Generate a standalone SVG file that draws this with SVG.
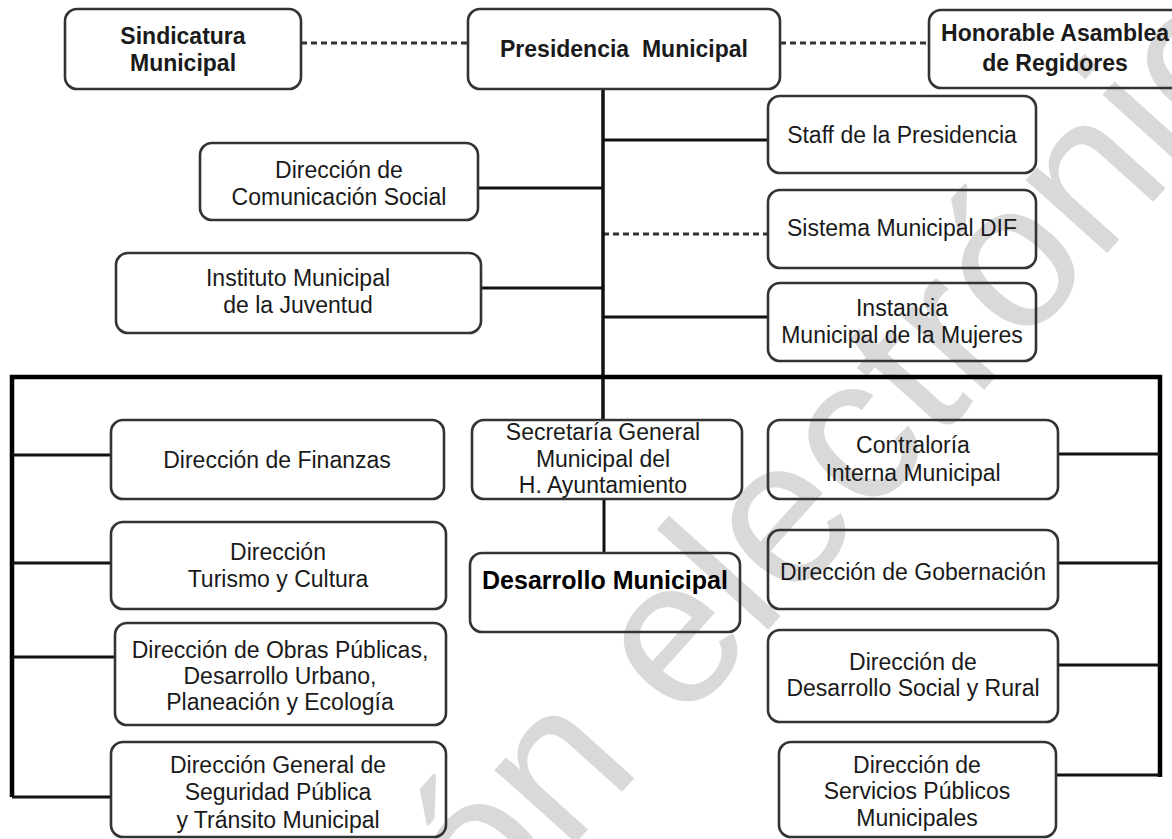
<svg xmlns="http://www.w3.org/2000/svg" width="1172" height="839" viewBox="0 0 1172 839">
<style>
.bg{fill:#ffffff}
.wm{font-family:"Liberation Sans",Arial,sans-serif;font-size:207px;fill:#d9d9d9}
.box{fill:none;stroke:#333333;stroke-width:2.6}
.t{font-family:"Liberation Sans",Arial,sans-serif;font-size:23px;fill:#1a1a1a;text-anchor:middle}
.b{font-weight:bold}
.big{font-size:25px;font-weight:bold;fill:#000}
.ln{stroke:#111111;stroke-width:3;fill:none}
.bus{stroke:#000000;stroke-width:4.5;fill:none}
.dot{stroke:#333333;stroke-width:3;stroke-dasharray:6 4;fill:none}
</style>
<rect class="bg" x="0" y="0" width="1172" height="839"/>
<g id="watermark">
<text class="wm" transform="translate(-65,1555) rotate(-48)" x="0" y="0">Publicación electrónica</text>
</g>
<g id="connectors">
<line class="dot" x1="301" y1="43" x2="468" y2="43"/>
<line class="dot" x1="780" y1="43" x2="929" y2="43"/>
<line class="dot" x1="603" y1="234" x2="768" y2="234"/>
<line class="ln" x1="603" y1="89" x2="603" y2="420" style="stroke-width:3.5"/>
<line class="ln" x1="603" y1="140" x2="768" y2="140"/>
<line class="ln" x1="478" y1="188" x2="603" y2="188"/>
<line class="ln" x1="481" y1="288" x2="603" y2="288"/>
<line class="ln" x1="603" y1="317" x2="768" y2="317"/>
<polyline class="bus" points="12,797 12,377 1160,377 1160,777"/>
<line class="ln" x1="12" y1="455" x2="111" y2="455"/>
<line class="ln" x1="12" y1="563" x2="111" y2="563"/>
<line class="ln" x1="12" y1="657" x2="115" y2="657"/>
<line class="ln" x1="12" y1="797" x2="111" y2="797"/>
<line class="ln" x1="1058" y1="454" x2="1160" y2="454"/>
<line class="ln" x1="1058" y1="563" x2="1160" y2="563"/>
<line class="ln" x1="1058" y1="665" x2="1160" y2="665"/>
<line class="ln" x1="1056" y1="775" x2="1160" y2="775"/>
<line class="ln" x1="604" y1="499" x2="604" y2="553"/>
</g>
<g id="sindicatura">
<rect class="box" x="65" y="9" width="236" height="80" rx="12"/>
<text class="t b" x="183" y="44">Sindicatura</text>
<text class="t b" x="183" y="71">Municipal</text>
</g>
<g id="presidencia">
<rect class="box" x="468" y="9" width="312" height="80" rx="12"/>
<text class="t b" x="624" y="57">Presidencia&#160; Municipal</text>
</g>
<g id="asamblea">
<rect class="box" x="929" y="10" width="262" height="78" rx="12"/>
<text class="t b" x="1055" y="41">Honorable Asamblea</text>
<text class="t b" x="1055" y="71">de Regidores</text>
</g>
<g id="staff">
<rect class="box" x="768" y="96" width="268" height="77" rx="12"/>
<text class="t" x="902" y="143">Staff de la Presidencia</text>
</g>
<g id="comunicacion">
<rect class="box" x="200" y="143" width="278" height="77" rx="12"/>
<text class="t" x="339" y="178">Dirección de</text>
<text class="t" x="339" y="205">Comunicación Social</text>
</g>
<g id="dif">
<rect class="box" x="768" y="190" width="268" height="78" rx="12"/>
<text class="t" x="902" y="236">Sistema Municipal DIF</text>
</g>
<g id="instituto">
<rect class="box" x="116" y="253" width="365" height="80" rx="12"/>
<text class="t" x="298" y="286">Instituto Municipal</text>
<text class="t" x="298" y="313">de la Juventud</text>
</g>
<g id="instancia">
<rect class="box" x="768" y="283" width="268" height="78" rx="12"/>
<text class="t" x="902" y="316">Instancia</text>
<text class="t" x="902" y="343">Municipal de la Mujeres</text>
</g>
<g id="finanzas">
<rect class="box" x="111" y="420" width="333" height="79" rx="12"/>
<text class="t" x="277" y="468">Dirección de Finanzas</text>
</g>
<g id="secretaria">
<rect class="box" x="472" y="420" width="270" height="79" rx="12"/>
<text class="t" x="603" y="440">Secretaría General</text>
<text class="t" x="603" y="467">Municipal del</text>
<text class="t" x="603" y="493">H. Ayuntamiento</text>
</g>
<g id="contraloria">
<rect class="box" x="768" y="420" width="290" height="79" rx="12"/>
<text class="t" x="913" y="453">Contraloría</text>
<text class="t" x="913" y="481">Interna Municipal</text>
</g>
<g id="turismo">
<rect class="box" x="111" y="522" width="335" height="87" rx="12"/>
<text class="t" x="278" y="560">Dirección</text>
<text class="t" x="278" y="587">Turismo y Cultura</text>
</g>
<g id="desarrollo-municipal">
<rect class="box" x="470" y="553" width="270" height="79" rx="12"/>
<text class="t big" x="605" y="589">Desarrollo Municipal</text>
</g>
<g id="gobernacion">
<rect class="box" x="768" y="530" width="290" height="79" rx="12"/>
<text class="t" x="913" y="580">Dirección de Gobernación</text>
</g>
<g id="obras">
<rect class="box" x="115" y="623" width="331" height="102" rx="12"/>
<text class="t" x="280" y="658">Dirección de Obras Públicas,</text>
<text class="t" x="280" y="684">Desarrollo Urbano,</text>
<text class="t" x="280" y="710">Planeación y Ecología</text>
</g>
<g id="desarrollo-social">
<rect class="box" x="768" y="630" width="290" height="92" rx="12"/>
<text class="t" x="913" y="670">Dirección de</text>
<text class="t" x="913" y="696">Desarrollo Social y Rural</text>
</g>
<g id="seguridad">
<rect class="box" x="111" y="742" width="335" height="95" rx="12"/>
<text class="t" x="278" y="773">Dirección General de</text>
<text class="t" x="278" y="800">Seguridad Pública</text>
<text class="t" x="278" y="828">y Tránsito Municipal</text>
</g>
<g id="servicios">
<rect class="box" x="779" y="742" width="277" height="95" rx="12"/>
<text class="t" x="917" y="773">Dirección de</text>
<text class="t" x="917" y="799">Servicios Públicos</text>
<text class="t" x="917" y="826">Municipales</text>
</g>
</svg>
